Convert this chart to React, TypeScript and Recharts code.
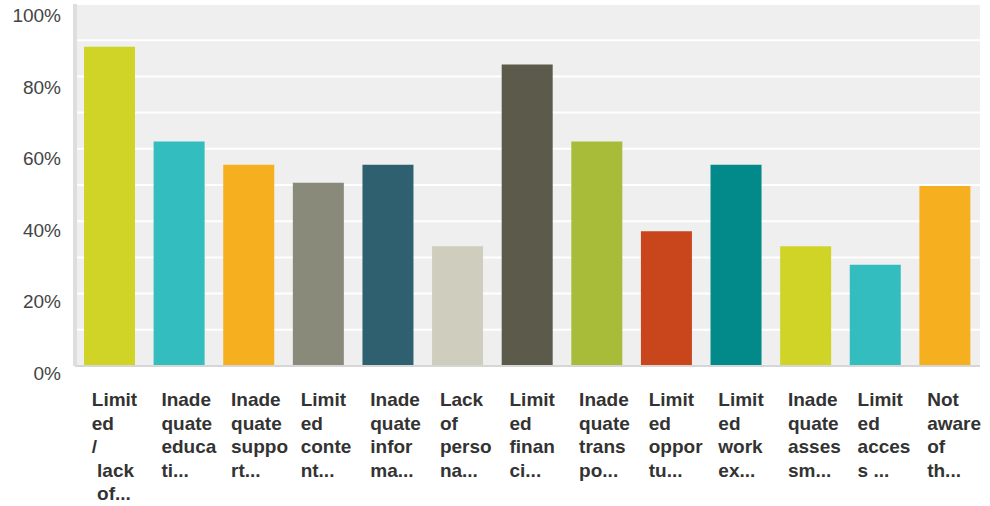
import { BarChart, Bar, XAxis, YAxis, CartesianGrid, Cell } from "recharts";

// Answer choices, pre-wrapped the way the survey tool truncates them
const categories = [
  "Limit\ned\n/\n lack\n of...",
  "Inade\nquate\neduca\nti...",
  "Inade\nquate\nsuppo\nrt...",
  "Limit\ned\nconte\nnt...",
  "Inade\nquate\ninfor\nma...",
  "Lack\nof\nperso\nna...",
  "Limit\ned\nfinan\nci...",
  "Inade\nquate\ntrans\npo...",
  "Limit\ned\noppor\ntu...",
  "Limit\ned\nwork\nex...",
  "Inade\nquate\nasses\nsm...",
  "Limit\ned\nacces\ns ...",
  "Not\naware\nof\nth...",
];

const percents = [88.2, 62.0, 55.6, 50.6, 55.6, 33.1, 83.3, 62.0, 37.2, 55.6, 33.1, 28.0, 49.7];

const barColors = [
  "#cfd427", "#33bdbf", "#f5af1f", "#8a8a7a", "#2f6070", "#cfcdbe", "#5b5a4b",
  "#a8bc3a", "#c9451b", "#02898a", "#cfd427", "#33bdbf", "#f5af1f",
];

const yTicks = [0, 10, 20, 30, 40, 50, 60, 70, 80, 90, 100];

const data = categories.map((name, i) => ({ name, value: percents[i] }));

const FONT = "'Liberation Sans', Arial, Helvetica, sans-serif";

function YTick({ y, payload }: any) {
  const v = payload.value as number;
  if (v % 20 !== 0) return null;
  // labels sit a little below their gridline
  const dy = 18 - ((100 - v) / 100) * 4;
  return (
    <text x={61} y={y + dy} textAnchor="end" fontFamily={FONT} fontSize={19} fill="#444">
      {`${v}%`}
    </text>
  );
}

function XTick({ x, y, payload }: any) {
  const lines = String(payload.value).split("\n");
  return (
    <text
      x={x - 18}
      y={y + 40}
      fontFamily={FONT}
      fontSize={19}
      fontWeight="bold"
      fill="#333"
      xmlSpace="preserve"
      style={{ whiteSpace: "pre" }}
    >
      {lines.map((line, i) => (
        <tspan key={i} x={x - 18} dy={i === 0 ? 0 : 23.6}>
          {line}
        </tspan>
      ))}
    </text>
  );
}

export default function App() {
  return (
    <div style={{ position: "absolute", left: 0, top: 0, background: "#fff" }}>
      <BarChart
        width={990}
        height={506}
        data={data}
        margin={{ top: 4, right: 10, left: 0, bottom: 0 }}
        barSize={51}
      >
        <CartesianGrid vertical={false} fill="#efefef" stroke="#ffffff" strokeWidth={2} />
        <XAxis
          dataKey="name"
          interval={0}
          height={140}
          tickSize={0}
          tickMargin={0}
          tickLine={false}
          axisLine={{ stroke: "#d6d6d6", strokeWidth: 2 }}
          tick={<XTick />}
        />
        <YAxis
          width={75}
          domain={[0, 100]}
          ticks={yTicks}
          interval={0}
          tickLine={false}
          axisLine={{ stroke: "#dedede", strokeWidth: 4 }}
          tick={<YTick />}
        />
        <Bar dataKey="value" isAnimationActive={false}>
          {data.map((_, i) => (
            <Cell key={i} fill={barColors[i]} />
          ))}
        </Bar>
      </BarChart>
    </div>
  );
}
